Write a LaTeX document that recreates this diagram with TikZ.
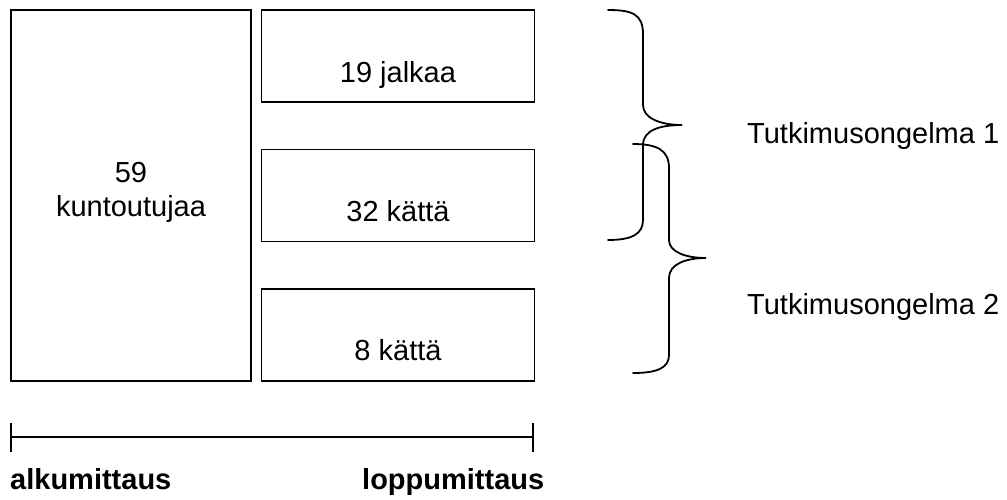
\documentclass[tikz,border=0pt]{standalone}
\usepackage{fontspec}
\setmainfont{Liberation Sans}

\begin{document}
\begin{tikzpicture}[x=1pt,y=-1pt]
\tikzset{box/.style={draw=black,line width=1.6pt,inner sep=0pt,minimum width=273pt,minimum height=92pt}}
\tikzset{lbl/.style={font=\fontsize{29}{34}\selectfont,inner sep=0pt,anchor=base}}
\tikzset{endlbl/.style={font=\bfseries\fontsize{29}{36}\selectfont,inner sep=0pt,anchor=base west}}
\tikzset{brace/.style={draw=black,line width=1.8pt,line cap=round}}
\useasboundingbox (0,0) rectangle (1007,499);
\node [box,minimum width=240pt,minimum height=371pt] (all) at (131,195.5) {};
\node [lbl] (n59) at (131,182) {59};
\node [lbl] (kunt) at (131,216) {kuntoutujaa};
\node [box] (feet) at (398,56) {};
\node [lbl] (jalk) at (398,82) {19 jalkaa};
\node [box] (hands) at (398,195.5) {};
\node [lbl] (kat32) at (398,221) {32 kättä};
\node [box] (hands2) at (398,335) {};
\node [lbl] (kat8) at (398,360) {8 kättä};
\draw [brace] (608,10) .. controls (632,10) and (643,14) .. (643,34) -- (643,105)
  .. controls (643,118) and (660,125) .. (682,125)
  .. controls (660,125) and (643,130) .. (643,145) -- (643,220)
  .. controls (643,234) and (632,240) .. (608,240);
\draw [brace] (633,144) .. controls (657,144) and (669,150) .. (669,168) -- (669,240)
  .. controls (669,252) and (686,258) .. (706,258)
  .. controls (686,258) and (669,264) .. (669,278) -- (669,355)
  .. controls (669,368) and (657,373) .. (633,373);
\node [lbl,anchor=base west] (prob1) at (747,143) {Tutkimusongelma 1};
\node [lbl,anchor=base west] (prob2) at (747,314) {Tutkimusongelma 2};
\coordinate (tstart) at (11,437);
\coordinate (tend) at (533,437);
\draw [black,line width=1.3pt] (tstart) -- (tend);
\draw [black,line width=1.3pt] (11,423) -- (11,452);
\draw [black,line width=1.3pt] (533,423) -- (533,452);
\node [endlbl] (alku) at (10,489) {alkumittaus};
\node [endlbl] (loppu) at (362,489) {loppumittaus};
\end{tikzpicture}
\end{document}
